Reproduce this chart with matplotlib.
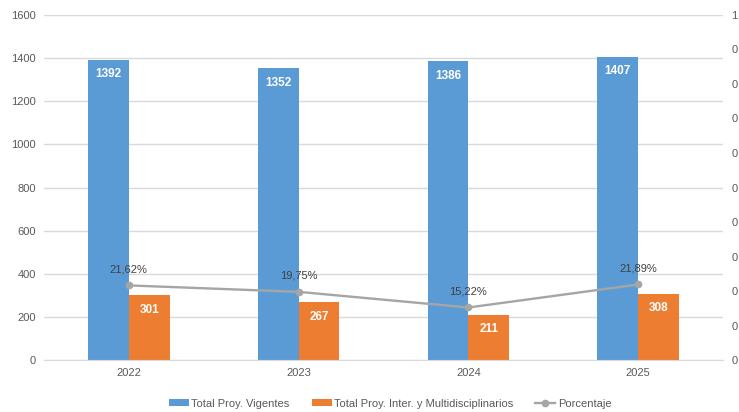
import numpy as np
import matplotlib.pyplot as plt

# Data
years = ['2022', '2023', '2024', '2025']
vigentes = [1392, 1352, 1386, 1407]
inter_multi = [301, 267, 211, 308]
porcentaje = [0.2162, 0.1975, 0.1522, 0.2189]
pct_labels = ['21,62%', '19,75%', '15,22%', '21,89%']

c_blue = '#5B9BD5'
c_orange = '#ED7D31'
c_gray = '#A5A5A5'
c_text = '#595959'

plt.rcParams['font.family'] = ['Liberation Sans', 'DejaVu Sans']

fig = plt.figure(figsize=(7.39, 4.12), dpi=100)
ax = fig.add_axes([0.0595, 0.1262, 0.919, 0.8374])
ax2 = ax.twinx()

x = np.arange(len(years))
w = 0.24

b1 = ax.bar(x - w/2, vigentes, w, color=c_blue, label='Total Proy. Vigentes', zorder=2)
b2 = ax.bar(x + w/2, inter_multi, w, color=c_orange, label='Total Proy. Inter. y Multidisciplinarios', zorder=2)

# value labels inside the top of each bar
for rect, v in zip(b1, vigentes):
    ax.text(rect.get_x() + rect.get_width()/2, v - 40, str(v), ha='center', va='top',
            color='white', fontsize=8.5, fontweight='bold')
for rect, v in zip(b2, inter_multi):
    ax.text(rect.get_x() + rect.get_width()/2, v - 40, str(v), ha='center', va='top',
            color='white', fontsize=8.5, fontweight='bold')

ax.set_xlim(-0.5, 3.5)
ax.set_ylim(0, 1600)
ax.set_yticks(range(0, 1601, 200))
ax.set_xticks(x)
ax.set_xticklabels(years)
ax.grid(axis='y', color='#D9D9D9', linewidth=1, zorder=0)
ax.set_axisbelow(True)
ax.tick_params(axis='both', length=0, labelsize=8, colors=c_text, pad=6)
for s in ax.spines.values():
    s.set_visible(False)
ax.spines['bottom'].set_visible(True)
ax.spines['bottom'].set_color('#D9D9D9')

# percentage line on the secondary axis
l1, = ax2.plot(x, porcentaje, color=c_gray, linewidth=1.7, marker='o', markersize=4.5,
               label='Porcentaje', zorder=3)
for xi, p, t in zip(x, porcentaje, pct_labels):
    ax2.annotate(t, (xi, p), xytext=(0, 8), textcoords='offset points', ha='center',
                 va='bottom', fontsize=8, color='#404040')
ax2.set_ylim(0, 1)
ax2.set_yticks(np.arange(0, 1.01, 0.1))
ax2.set_yticklabels(['1' if v > 0.95 else '0' for v in np.arange(0, 1.01, 0.1)])
ax2.tick_params(axis='y', length=0, labelsize=8, colors=c_text, pad=6)
for s in ax2.spines.values():
    s.set_visible(False)

handles = [b1, b2, l1]
fig.legend(handles, [h.get_label() for h in handles], loc='center', bbox_to_anchor=(0.528, 0.02),
           ncol=3, frameon=False, fontsize=8, labelcolor=c_text, handlelength=1.8,
           handleheight=0.6, handletextpad=0.2, columnspacing=2.0)

fig.savefig('out.png', dpi=100)
